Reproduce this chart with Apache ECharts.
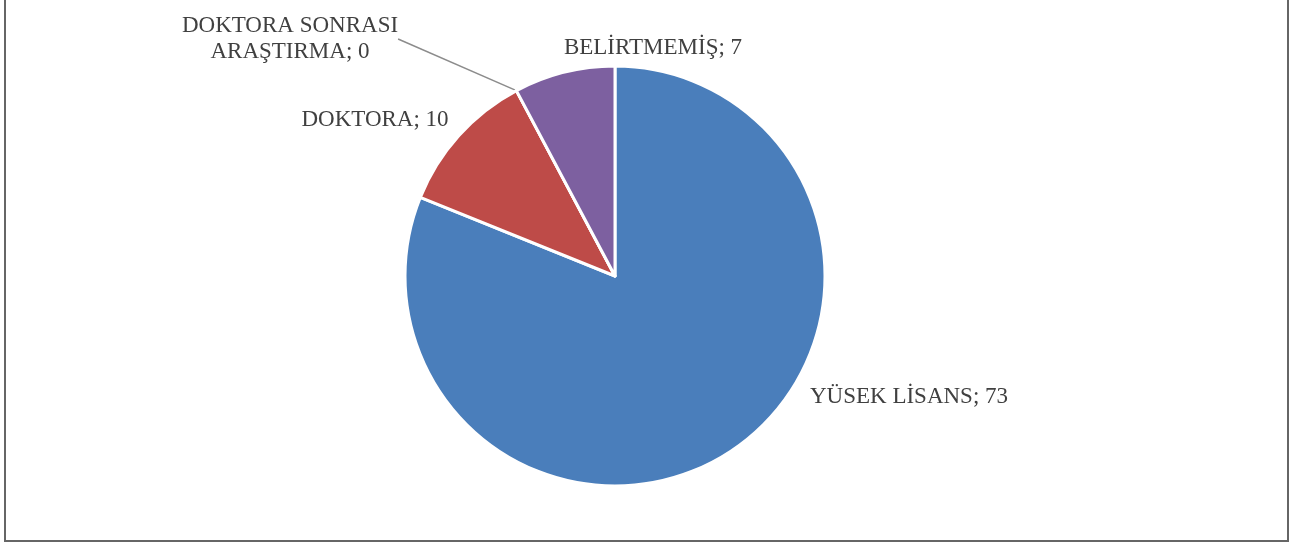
<!DOCTYPE html>
<html>
<head>
<meta charset="utf-8">
<script src="https://cdn.jsdelivr.net/npm/echarts@6/dist/echarts.min.js"></script>
<style>
html,body{margin:0;padding:0;background:#fff;}
#chart{width:1291px;height:543px;}
</style>
</head>
<body>
<div id="chart"></div>
<script>
const categories = ['YÜSEK LİSANS', 'DOKTORA', 'DOKTORA SONRASI\nARAŞTIRMA', 'BELİRTMEMİŞ'];
const values = [73, 10, 0, 7];
const colors = ['#4A7EBB', '#BE4B48', '#9BBB59', '#7D60A0'];

// label placement (pixel centres), layout only
const labelPos = [
  {x: 909, y: 397},
  {x: 375, y: 120},
  {x: 290, y: 39},
  {x: 653, y: 48}
];

const chart = echarts.init(document.getElementById('chart'));
chart.setOption({
  backgroundColor: '#fff',
  animation: false,
  graphic: [{
    type: 'rect',
    shape: {x: 5, y: -10, width: 1283, height: 551},
    style: {fill: 'none', stroke: '#666666', lineWidth: 2},
    silent: true
  }],
  series: [{
    type: 'pie',
    center: [615, 276],
    radius: [0, 210],
    startAngle: 90,
    clockwise: true,
    avoidLabelOverlap: false,
    stillShowZeroSum: true,
    itemStyle: {borderColor: '#fff', borderWidth: 3},
    label: {
      show: true,
      position: 'outside',
      formatter: p => p.name + '; ' + p.value,
      fontFamily: '"Liberation Serif", "DejaVu Serif", serif',
      fontSize: 23,
      lineHeight: 26,
      color: '#404040',
      align: 'center'
    },
    labelLine: {show: false},
    labelLayout: function (params) {
      const p = labelPos[params.dataIndex];
      return {x: p.x, y: p.y, align: 'center', verticalAlign: 'middle'};
    },
    data: categories.map((c, i) => {
      const d = {name: c, value: values[i], itemStyle: {color: colors[i]}};
      if (values[i] === 0) {
        d.labelLine = {show: true, length: 10, length2: 0, lineStyle: {color: '#8c8c8c', width: 1.5}};
      }
      return d;
    })
  }]
});
</script>
</body>
</html>
